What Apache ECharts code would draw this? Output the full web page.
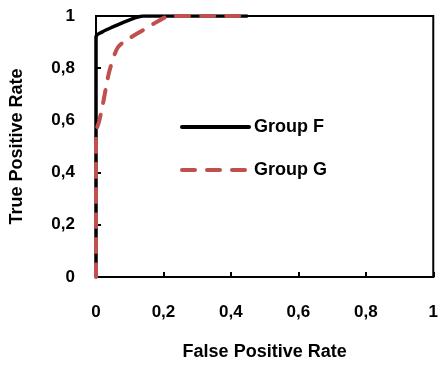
<!DOCTYPE html>
<html><head><meta charset="utf-8">
<script src="https://cdn.jsdelivr.net/npm/echarts@6/dist/echarts.min.js"></script>
<style>html,body{margin:0;padding:0;background:#fff}#c{width:441px;height:367px}</style>
</head><body><div id="c"></div>
<script>
const seriesNames = ['Group F', 'Group G'];
const groupF = [[0,0],[0,0.92],[0.02,0.94],[0.05,0.958],[0.1,0.985],[0.14,1],[0.45,1]];
const groupG = [[0,0],[0,0.55],[0.01,0.6],[0.02,0.66],[0.04,0.79],[0.065,0.88],[0.1,0.915],[0.14,0.946],[0.18,0.977],[0.22,1],[0.43,1]];
const xTitle = 'False Positive Rate';
const yTitle = 'True Positive Rate';
const font = 'Liberation Sans';
const fmt = v => String(v).replace('.', ',');
const chart = echarts.init(document.getElementById('c'));
const txt = {fontFamily: font, fontWeight: 'bold', fontSize: 17, color: '#000'};
chart.setOption({
  animation: false,
  grid: {left: 96, right: 6, top: 16, bottom: 90, show: true, borderColor: '#000', borderWidth: 2},
  legend: {
    orient: 'vertical', left: 175, top: 113, itemGap: 25, itemWidth: 67, itemHeight: 1,
    itemStyle: {opacity: 0},
    lineStyle: {width: 4, cap: 'round'},
    textStyle: Object.assign({}, txt, {fontSize: 18}),
    data: seriesNames
  },
  xAxis: {
    type: 'value', min: 0, max: 1, interval: 0.2,
    name: xTitle, nameLocation: 'middle', nameGap: 66,
    nameTextStyle: Object.assign({}, txt, {fontSize: 18}),
    axisLine: {lineStyle: {color: '#000', width: 2}},
    axisTick: {inside: true, length: 5, lineStyle: {color: '#000', width: 2}},
    axisLabel: Object.assign({margin: 27, formatter: fmt}, txt),
    splitLine: {show: false}
  },
  yAxis: {
    type: 'value', min: 0, max: 1, interval: 0.2,
    name: yTitle, nameLocation: 'middle', nameGap: 70,
    nameTextStyle: Object.assign({}, txt, {fontSize: 18}),
    axisLine: {lineStyle: {color: '#000', width: 2}},
    axisTick: {inside: true, length: 5, lineStyle: {color: '#000', width: 2}},
    axisLabel: Object.assign({margin: 21, formatter: fmt}, txt),
    splitLine: {show: false}
  },
  series: [
    {name: seriesNames[0], type: 'line', data: groupF, symbol: 'none', smooth: 0.3,
     lineStyle: {color: '#000', width: 3.5}, itemStyle: {color: '#000'}},
    {name: seriesNames[1], type: 'line', data: groupG, symbol: 'none', smooth: 0.3,
     lineStyle: {color: '#c0504d', width: 4, type: [13, 12], cap: 'round'}, itemStyle: {color: '#c0504d'}}
  ]
});
</script></body></html>
